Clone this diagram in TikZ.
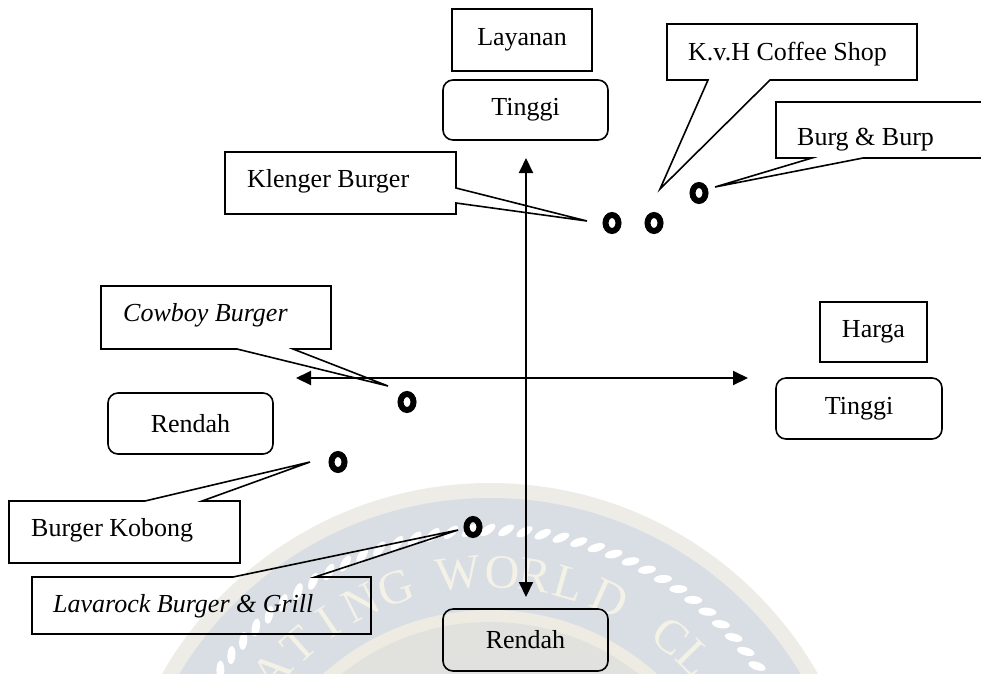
\documentclass[tikz,border=0pt]{standalone}
\usepackage{fontspec}
\setmainfont{Liberation Serif}
\usetikzlibrary{arrows.meta,shapes.geometric}
\definecolor{sealout}{HTML}{EDECE6}
\definecolor{sealband}{HTML}{D8DEE4}
\definecolor{sealtext}{HTML}{F4F2E6}
\definecolor{sealcream}{HTML}{EEECE2}
\definecolor{sealin}{HTML}{E1E1DE}
\tikzset{
 lbl/.style={font=\fontsize{26}{30}\selectfont, inner sep=0pt},
 sqbox/.style={draw, line width=1.6pt, font=\fontsize{26}{30}\selectfont, inner sep=0pt, outer sep=0pt},
 rbox/.style={sqbox, rounded corners=10pt},
 cframe/.style={inner sep=0pt, outer sep=0pt, anchor=north west},
 cline/.style={draw, line width=1.6pt, line join=miter},
 ring/.style={draw, shape=ellipse, line width=6pt, minimum width=13pt, minimum height=16pt, inner sep=0pt},
 axis/.style={line width=2pt, {Triangle[length=15pt,width=14pt]}-{Triangle[length=15pt,width=14pt]}},
 wmletter/.style={text=sealtext, font=\fontsize{48}{48}\selectfont, inner sep=0pt},
}
\begin{document}
\begin{tikzpicture}[x=1pt,y=-1pt]
\useasboundingbox (0,0) rectangle (981,673);
\clip (0,0) rectangle (981,673);
% faint seal watermark
\fill[sealout] (490,860) circle[radius=377pt];
\fill[sealband] (490,860) circle[radius=362pt];
\foreach \a in {20,23.2,...,160} {
  \fill[white, shift={({490+330*cos(\a)},{860-330*sin(\a)})}, rotate=\a-55] (0,0) ellipse[x radius=9pt, y radius=4pt];
}
\fill[sealcream] (490,860) circle[radius=250pt];
\fill[sealin] (490,860) circle[radius=238pt];
\foreach \ch/\ang [count=\i] in {A/139.1, T/131.6, I/124.1, N/116.6, G/109.1, W/96.3, O/87.6, R/81, L/74, D/65.5, C/51.1, L/44.5} {
  \node[wmletter, rotate=\ang-90, name=wm\i] at ({490+288*cos(\ang)},{860-288*sin(\ang)}) {\ch};
}
% axis label boxes
\node[sqbox, minimum width=140, minimum height=62] (layanan) at (522,40) {Layanan};
\node[rbox, minimum width=165, minimum height=60] (tinggiV) at (525.5,110) {Tinggi};
\node[sqbox, minimum width=107, minimum height=60] (harga) at (873.5,332) {Harga};
\node[rbox, minimum width=166, minimum height=61] (tinggiH) at (859,408.5) {Tinggi};
\node[rbox, minimum width=165, minimum height=61] (rendahH) at (190.5,423.5) {Rendah};
\node[rbox, minimum width=165, minimum height=62] (rendahV) at (525.5,640) {Rendah};
% axes
\coordinate (vtop) at (526,158);
\coordinate (vbot) at (526,597);
\coordinate (hleft) at (296,378);
\coordinate (hright) at (748,378);
\draw[axis] (vbot) -- (vtop);
\draw[axis] (hleft) -- (hright);
% points
\node[ring] (dklenger) at (612,223) {};
\node[ring] (dkvh) at (654,223) {};
\node[ring] (dburg) at (699,193) {};
\node[ring] (dcowboy) at (407,402) {};
\node[ring] (dkobong) at (338,462) {};
\node[ring] (dlava) at (473,527) {};
% callouts
\coordinate (kltip) at (587,221);
\node[cframe, minimum width=231, minimum height=62] (klb) at (225,152) {};
\draw[cline] (klb.north west) -- (klb.north east) -- (456,188) -- (kltip) -- (456,203) -- (klb.south east) -- (klb.south west) -- cycle;
\node[lbl, anchor=base west] (klt) at (247,187) {Klenger Burger};

\coordinate (kvtip) at (660,189);
\node[cframe, minimum width=250, minimum height=56] (kvb) at (667,24) {};
\draw[cline] (kvb.north west) -- (kvb.north east) -- (kvb.south east) -- (770,80) -- (kvtip) -- (708,80) -- (kvb.south west) -- cycle;
\node[lbl, anchor=base west] (kvt) at (688,60) {K.v.H Coffee Shop};

\coordinate (bbtip) at (715,187);
\node[cframe, minimum width=214, minimum height=56] (bbb) at (776,102) {};
\draw[cline] (bbb.north west) -- (bbb.north east) -- (bbb.south east) -- (863,158) -- (bbtip) -- (812,158) -- (bbb.south west) -- cycle;
\node[lbl, anchor=base west] (bbt) at (797,145) {Burg \& Burp};

\coordinate (cbtip) at (388,386);
\node[cframe, minimum width=230, minimum height=63] (cbb) at (101,286) {};
\draw[cline] (cbb.north west) -- (cbb.north east) -- (cbb.south east) -- (293,349) -- (cbtip) -- (237,349) -- (cbb.south west) -- cycle;
\node[lbl, anchor=base west] (cbt) at (123,321) {\itshape Cowboy Burger};

\coordinate (kbtip) at (310,462);
\node[cframe, minimum width=231, minimum height=62] (kbb) at (9,501) {};
\draw[cline] (kbb.north west) -- (145,501) -- (kbtip) -- (202,501) -- (kbb.north east) -- (kbb.south east) -- (kbb.south west) -- cycle;
\node[lbl, anchor=base west] (kbt) at (31,536) {Burger Kobong};

\coordinate (lvtip) at (458,530);
\node[cframe, minimum width=339, minimum height=57] (lvb) at (32,577) {};
\draw[cline] (lvb.north west) -- (233,577) -- (lvtip) -- (315,577) -- (lvb.north east) -- (lvb.south east) -- (lvb.south west) -- cycle;
\node[lbl, anchor=base west] (lvt) at (53,612) {\itshape Lavarock Burger \& Grill};
\end{tikzpicture}
\end{document}
